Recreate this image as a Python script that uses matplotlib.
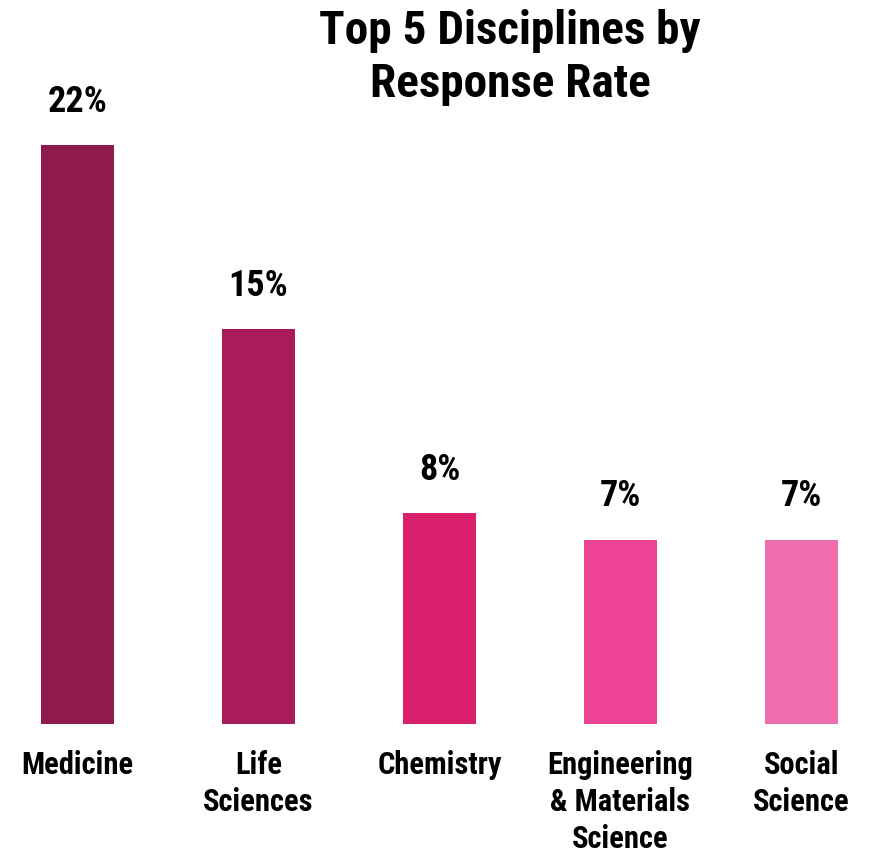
import matplotlib.pyplot as plt

# данные
disciplines = ["Medicine", "Life\nSciences", "Chemistry", "Engineering\n& Materials\nScience", "Social\nScience"]
rates = [22, 15, 8, 7, 7]
colors = ["#8E1A4E", "#A81C5C", "#D81F6C", "#EC4397", "#F06DAE"]

plt.rcParams["font.family"] = ["Roboto Condensed", "DejaVu Sans"]
plt.rcParams["font.weight"] = "bold"

fig = plt.figure(figsize=(8.71, 8.54), dpi=100)
ax = fig.add_axes([0, 1 - 725 / 854, 1, 579 / 854])

x = range(len(rates))
bars = ax.bar(x, rates, width=0.403, color=colors)
ax.set_ylim(0, 22)
ax.set_xlim(-77.5 / 181, (871 - 77.5) / 181)

for xi, r in zip(x, rates):
    ax.text(xi, r + 1.0, f"{r}%", ha="center", va="bottom", fontsize=26,
            fontweight="bold", clip_on=False)

ax.set_xticks(list(x))
ax.set_xticklabels(disciplines, fontsize=22, fontweight="bold", linespacing=1.3)
ax.tick_params(axis="x", length=0, pad=18)
ax.set_yticks([])
for s in ax.spines.values():
    s.set_visible(False)

fig.text(510 / 871, 1 - 9 / 854, "Top 5 Disciplines by\nResponse Rate", ha="center", va="top",
         fontsize=34, fontweight="bold", linespacing=1.27)

fig.savefig("out.png", dpi=100)
